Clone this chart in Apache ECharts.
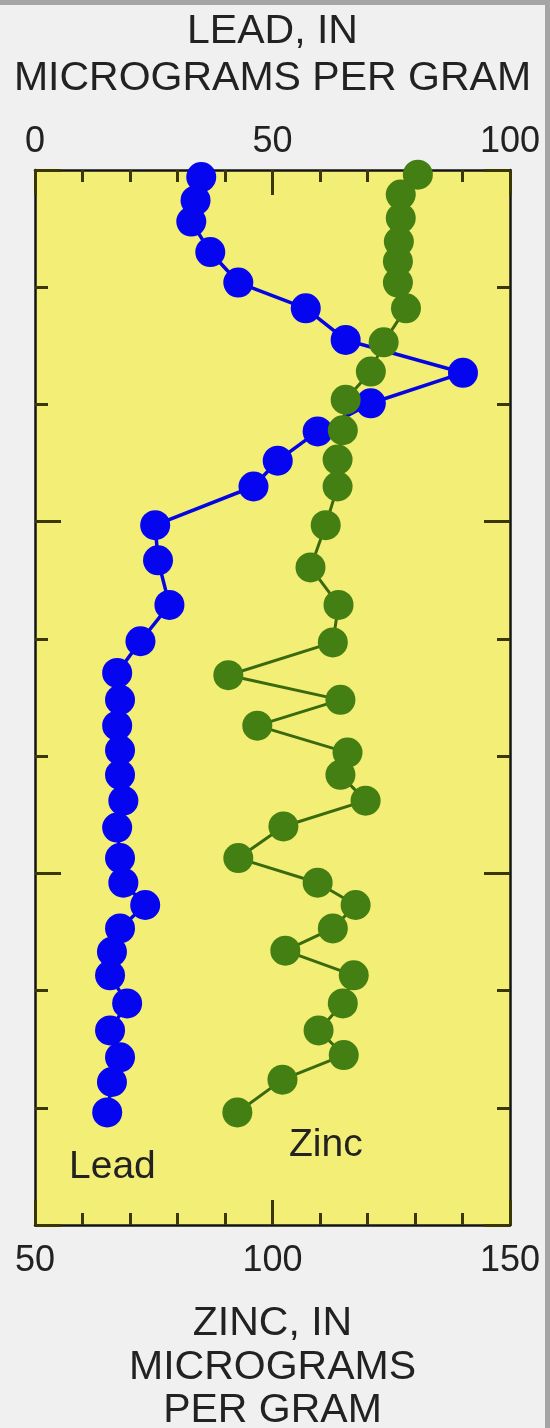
<!DOCTYPE html>
<html>
<head>
<meta charset="utf-8">
<script src="https://cdn.jsdelivr.net/npm/echarts@6/dist/echarts.min.js"></script>
<style>
html,body{margin:0;padding:0;background:#f0f0f0;}
#chart{width:550px;height:1428px;}
</style>
</head>
<body>
<div id="chart"></div>
<script>
// Depth is in arbitrary units (plot spans 0-90, ticks every 10; no depth labels shown)
const leadDepth = [0.6, 2.6, 4.4, 7.0, 9.6, 11.8, 14.5, 17.3, 19.9, 22.3, 24.8, 27.0, 30.3, 33.3, 37.1, 40.2,
  42.9, 45.2, 47.4, 49.5, 51.6, 53.8, 56.1, 58.7, 60.8, 62.7, 64.7, 66.7, 68.7, 71.1, 73.4, 75.7, 77.8, 80.4];
const leadValue = [35.0, 33.8, 32.9, 36.9, 42.8, 57.0, 65.4, 90.1, 70.7, 59.5, 51.1, 46.0, 25.3, 25.9, 28.3, 22.2,
  17.3, 17.9, 17.3, 17.9, 17.9, 18.6, 17.3, 17.9, 18.6, 23.2, 17.9, 16.2, 15.8, 19.4, 15.8, 17.9, 16.2, 15.2];
const zincDepth = [0.4, 2.1, 4.1, 6.1, 7.8, 9.6, 11.8, 14.7, 17.2, 19.6, 22.2, 24.7, 27.0, 30.3, 33.9, 37.1, 40.3,
  43.1, 45.2, 47.4, 49.7, 51.6, 53.8, 56.0, 58.7, 60.8, 62.7, 64.7, 66.6, 68.7, 71.1, 73.4, 75.5, 77.6, 80.4];
const zincValue = [130.6, 127.0, 127.0, 126.6, 126.4, 126.4, 128.1, 123.4, 120.7, 115.4, 114.8, 113.7, 113.7, 111.2, 108.0, 113.9, 112.7,
  90.7, 114.3, 96.8, 115.8, 114.3, 119.6, 102.3, 92.8, 109.5, 117.5, 112.7, 102.7, 117.1, 114.8, 109.7, 115.0, 102.1, 92.6];
const leadTickLabels = [0, 50, 100];
const zincTickLabels = [50, 100, 150];
const leadTitle = 'LEAD, IN\nMICROGRAMS PER GRAM';
const zincTitle = 'ZINC, IN\nMICROGRAMS\nPER GRAM';
const leadLabel = 'Lead';
const zincLabel = 'Zinc';

const FONT = '"Liberation Sans", Arial, Helvetica, sans-serif';
const FRAME = '#141414';
const TICK = '#3a3700';
const TXT = '#222222';

const chart = echarts.init(document.getElementById('chart'), null, {renderer: 'canvas'});

function axisBase(extra) {
  return Object.assign({
    type: 'value',
    splitLine: {show: false},
    axisLine: {show: true, onZero: false, lineStyle: {color: FRAME, width: 2.5}},
    axisLabel: {show: false}
  }, extra);
}

const option = {
  animation: false,
  backgroundColor: '#f0f0f0',
  grid: {left: 35, right: 40, top: 170, bottom: 203, show: true, backgroundColor: '#f2ee76', borderWidth: 0,
    containLabel: false, outerBoundsMode: 'none'},
  xAxis: [
    axisBase({
      position: 'bottom', min: 50, max: 150, interval: 50,
      axisTick: {show: true, inside: true, length: 25, lineStyle: {color: TICK, width: 3}},
      minorTick: {show: true, splitNumber: 5, length: 12, lineStyle: {color: TICK, width: 3}},
      axisLabel: {show: true, margin: 18, fontFamily: FONT, fontSize: 36, color: TXT,
        formatter: v => zincTickLabels.indexOf(v) >= 0 ? String(v) : ''},
      name: zincTitle, nameLocation: 'middle', nameGap: 77,
      nameTextStyle: {fontFamily: FONT, fontSize: 41, color: TXT, lineHeight: 43.5, align: 'center', verticalAlign: 'top'}
    }),
    axisBase({
      position: 'top', min: 0, max: 100, interval: 50,
      axisTick: {show: true, inside: true, length: 25, lineStyle: {color: TICK, width: 3}},
      minorTick: {show: true, splitNumber: 5, length: 12, lineStyle: {color: TICK, width: 3}},
      axisLabel: {show: true, margin: 10, fontFamily: FONT, fontSize: 36, color: TXT,
        formatter: v => leadTickLabels.indexOf(v) >= 0 ? String(v) : ''},
      name: leadTitle, nameLocation: 'middle', nameGap: 68,
      nameTextStyle: {fontFamily: FONT, fontSize: 41, color: TXT, lineHeight: 47, align: 'center', verticalAlign: 'bottom'}
    })
  ],
  yAxis: [
    axisBase({
      position: 'left', min: 0, max: 90, interval: 30, inverse: true,
      axisTick: {show: true, inside: true, length: 26, lineStyle: {color: TICK, width: 3}},
      minorTick: {show: true, splitNumber: 3, length: 13, lineStyle: {color: TICK, width: 3}}
    }),
    axisBase({
      position: 'right', min: 0, max: 90, interval: 30, inverse: true,
      axisTick: {show: true, inside: true, length: 26, lineStyle: {color: TICK, width: 3}},
      minorTick: {show: true, splitNumber: 3, length: 13, lineStyle: {color: TICK, width: 3}}
    })
  ],
  series: [
    {
      name: 'Lead', type: 'line', xAxisIndex: 1, yAxisIndex: 0,
      data: leadValue.map((v, i) => [v, leadDepth[i]]),
      symbol: 'circle', symbolSize: 30,
      itemStyle: {color: '#0505f0'},
      lineStyle: {color: '#0505e0', width: 3.5},
      z: 3
    },
    {
      name: 'Zinc', type: 'line', xAxisIndex: 0, yAxisIndex: 0,
      data: zincValue.map((v, i) => [v, zincDepth[i]]),
      symbol: 'circle', symbolSize: 30,
      itemStyle: {color: '#437f12'},
      lineStyle: {color: '#3a6a0e', width: 3},
      z: 4
    }
  ],
  graphic: [
    {type: 'text', left: 69, top: 1148, style: {text: leadLabel, font: '39px ' + FONT, fill: TXT}, z: 10},
    {type: 'text', left: 289, top: 1126, style: {text: zincLabel, font: '39px ' + FONT, fill: TXT}, z: 10},
    {type: 'rect', shape: {x: 0, y: 0, width: 550, height: 5}, style: {fill: '#a5a5a5'}, z: 0},
    {type: 'rect', shape: {x: 545, y: 0, width: 5, height: 1428}, style: {fill: '#a5a5a5'}, z: 0}
  ]
};
chart.setOption(option);
</script>
</body>
</html>
